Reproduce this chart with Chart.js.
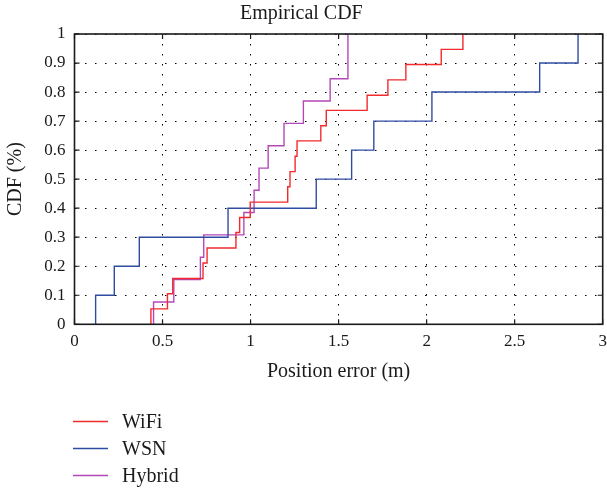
<!DOCTYPE html>
<html>
<head>
<meta charset="utf-8">
<script src="https://cdn.jsdelivr.net/npm/chart.js@4/dist/chart.umd.min.js"></script>
<style>
  html, body { margin: 0; padding: 0; background: #fff; }
  #wrap { width: 607px; height: 489px; }
</style>
</head>
<body>
<div id="wrap"><canvas id="cdf" width="607" height="489"></canvas></div>
<script>
// step points of each empirical CDF (position error in m, cumulative fraction)
const wifiX = [0.434, 0.434, 0.528, 0.558, 0.730, 0.753, 0.917, 0.938, 0.998, 1.211,
               1.224, 1.253, 1.264, 1.399, 1.430, 1.662, 1.780, 1.882, 2.083, 2.206];
const wifiY = [0, 0.053, 0.105, 0.158, 0.211, 0.263, 0.316, 0.368, 0.421, 0.474,
               0.526, 0.579, 0.632, 0.684, 0.737, 0.789, 0.842, 0.895, 0.947, 1.0];

const wsnX = [0.120, 0.120, 0.226, 0.368, 0.872, 1.373, 1.574, 1.700, 2.030, 2.642, 2.860];
const wsnY = [0, 0.1, 0.2, 0.3, 0.4, 0.5, 0.6, 0.7, 0.8, 0.9, 1.0];

const hybridX = [0.449, 0.449, 0.564, 0.715, 0.734, 0.962, 1.020, 1.048, 1.100, 1.190, 1.300, 1.452, 1.553];
const hybridY = [0, 0.077, 0.154, 0.231, 0.308, 0.385, 0.462, 0.538, 0.615, 0.692, 0.769, 0.846, 1.0];

const seriesNames  = ['WiFi', 'WSN', 'Hybrid'];
const seriesColors = ['#f22a2e', '#2f4ca3', '#b548b8'];

const xTicks = [0, 0.5, 1, 1.5, 2, 2.5, 3];
const yTicks = [0, 0.1, 0.2, 0.3, 0.4, 0.5, 0.6, 0.7, 0.8, 0.9, 1];

const FONT = 'Liberation Serif, DejaVu Serif, serif';
const INK  = '#1a1a1a';

function pts(xs, ys) {
  return xs.map((x, i) => ({ x, y: ys[i] }));
}

/* ── box + inward tick marks ── */
const framePlugin = {
  id: 'frame',
  afterDatasetsDraw(chart) {
    const { ctx, chartArea: a, scales: { x, y } } = chart;
    const len = 5;
    ctx.save();
    ctx.strokeStyle = INK;
    ctx.lineWidth = 1.2;
    ctx.beginPath();
    xTicks.forEach(v => {
      const px = x.getPixelForValue(v);
      ctx.moveTo(px, a.bottom); ctx.lineTo(px, a.bottom - len);
      ctx.moveTo(px, a.top);    ctx.lineTo(px, a.top + len);
    });
    yTicks.forEach(v => {
      const py = y.getPixelForValue(v);
      ctx.moveTo(a.left, py);  ctx.lineTo(a.left + len, py);
      ctx.moveTo(a.right, py); ctx.lineTo(a.right - len, py);
    });
    ctx.stroke();
    ctx.lineWidth = 1.6;
    ctx.strokeRect(a.left, a.top, a.right - a.left, a.bottom - a.top);
    ctx.restore();
  },
};

/* ── vertical legend under the plot ── */
const legendPlugin = {
  id: 'stackLegend',
  afterDraw(chart) {
    const ctx = chart.ctx;
    ctx.save();
    ctx.font = '20px ' + FONT;
    ctx.fillStyle = INK;
    ctx.textBaseline = 'middle';
    chart.data.datasets.forEach((ds, i) => {
      const yy = 421.5 + i * 27;
      ctx.strokeStyle = ds.borderColor;
      ctx.lineWidth = 1.5;
      ctx.beginPath();
      ctx.moveTo(73, yy); ctx.lineTo(108, yy);
      ctx.stroke();
      ctx.fillText(ds.label, 122, yy + 1);
    });
    ctx.restore();
  },
};

const datasets = [
  { label: seriesNames[0], data: pts(wifiX, wifiY) },
  { label: seriesNames[1], data: pts(wsnX, wsnY) },
  { label: seriesNames[2], data: pts(hybridX, hybridY) },
].map((d, i) => ({
  ...d,
  borderColor: seriesColors[i],
  backgroundColor: seriesColors[i],
  borderWidth: 1.4,
  pointRadius: 0,
  showLine: true,
  stepped: 'before',
  fill: false,
}));

new Chart(document.getElementById('cdf'), {
  type: 'scatter',
  data: { datasets },
  options: {
    responsive: false,
    animation: false,
    devicePixelRatio: 1,
    layout: { padding: { left: 0, right: 4.3, top: 0, bottom: 102.7 } },
    plugins: {
      legend: { display: false },
      tooltip: { enabled: false },
      title: {
        display: true,
        text: 'Empirical CDF',
        color: INK,
        font: { family: FONT, size: 20, weight: 'normal' },
        padding: { top: 2, bottom: 8 },
      },
    },
    scales: {
      x: {
        type: 'linear',
        min: 0, max: 3,
        afterBuildTicks: s => { s.ticks = xTicks.map(v => ({ value: v })); },
        afterFit: s => { s.height = 62; s.paddingLeft = 0; s.paddingRight = 0; },
        ticks: {
          color: INK,
          padding: 7,
          maxRotation: 0,
          font: { family: FONT, size: 17 },
          callback: v => String(v),
        },
        grid: { color: '#000', lineWidth: 1, drawTicks: false },
        border: { display: false, dash: [1.5, 8.5] },
        title: {
          display: true,
          text: 'Position error (m)',
          color: INK,
          font: { family: FONT, size: 20 },
          padding: { top: 0, bottom: 2.3 },
        },
      },
      y: {
        type: 'linear',
        min: 0, max: 1,
        afterBuildTicks: s => { s.ticks = yTicks.map(v => ({ value: v })); },
        afterFit: s => { s.width = 74.5; s.paddingTop = 0; s.paddingBottom = 0; },
        ticks: {
          color: INK,
          padding: 9,
          font: { family: FONT, size: 17 },
          callback: v => String(+v.toFixed(1)),
        },
        grid: { color: '#000', lineWidth: 1, drawTicks: false },
        border: { display: false, dash: [1.5, 8.5] },
        title: {
          display: true,
          text: 'CDF (%)',
          color: INK,
          font: { family: FONT, size: 20 },
          padding: { top: 4, bottom: 0 },
        },
      },
    },
  },
  plugins: [framePlugin, legendPlugin],
});
</script>
</body>
</html>
